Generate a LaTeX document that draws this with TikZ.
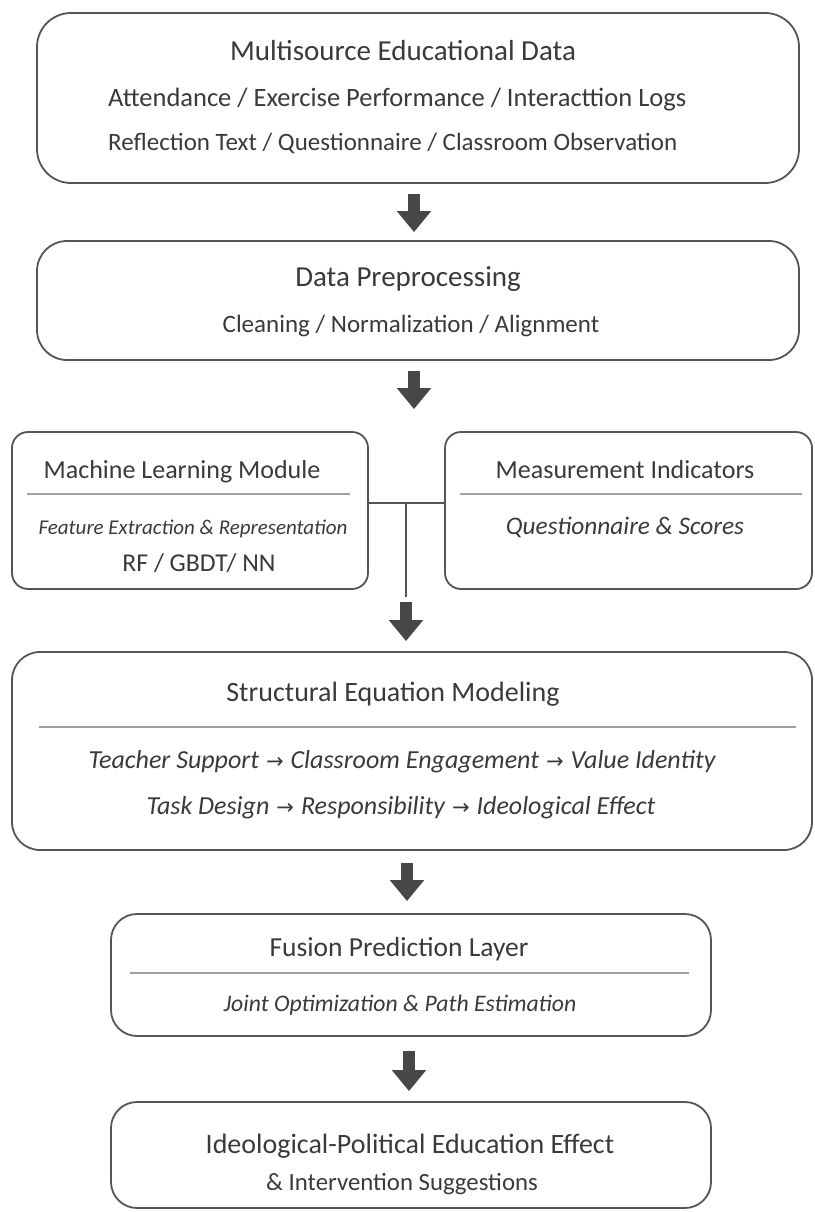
\documentclass[tikz,border=0pt]{standalone}
\usepackage{fontspec}
\setmainfont{Carlito}
\newfontfamily\symfont{DejaVu Sans}
\usetikzlibrary{arrows.meta,calc}
\definecolor{ink}{HTML}{3A3A3A}
\definecolor{edge}{HTML}{555555}
\definecolor{arr}{HTML}{474747}
\definecolor{rulec}{HTML}{A0A0A0}
\newcommand\ar{\hspace{7pt}{\upshape\symfont\fontsize{21}{24}\selectfont →}\hspace{7pt}}
\tikzset{
  box/.style={draw=edge, line width=1.8pt, fill=white, inner sep=0pt},
  txt/.style={text=ink, inner sep=0pt, text height=0.7em, text depth=0.2em, anchor=center, yshift=-6pt},
  ttl/.style={txt, font=\fontsize{26}{30}\selectfont},
  body/.style={txt, font=\fontsize{25}{30}\selectfont},
  itl/.style={txt, font=\fontsize{23}{28}\selectfont\itshape},
  divider/.style={draw=rulec, line width=1.5pt},
  fat/.style={draw=arr, line width=12.5pt, -{Triangle[width=33pt,length=21pt]}},
  conn/.style={draw=edge, line width=2pt}
}
\begin{document}
\begin{tikzpicture}[x=1pt,y=-1pt]
\useasboundingbox (0,0) rectangle (814,1212);
\fill[white] (0,0) rectangle (814,1212);
% boxes
\node[box, minimum width=762pt, minimum height=170pt, rounded corners=34pt] (b1) at (418,98) {};
\node[box, minimum width=762pt, minimum height=119pt, rounded corners=30pt] (b2) at (418,300.5) {};
\node[box, minimum width=356pt, minimum height=157pt, rounded corners=16pt] (ml) at (190,510.5) {};
\node[box, minimum width=367pt, minimum height=157pt, rounded corners=16pt] (mi) at (628.5,510.5) {};
\node[box, minimum width=800pt, minimum height=198pt, rounded corners=28pt] (sem) at (412,751) {};
\node[box, minimum width=600pt, minimum height=122pt, rounded corners=26pt] (fus) at (411,975) {};
\node[box, minimum width=600pt, minimum height=106pt, rounded corners=26pt] (fin) at (411,1155) {};
% texts
\node[ttl, font=\fontsize{29}{34}\selectfont] (t1) at (403,52) {Multisource Educational Data};
\node[body, font=\fontsize{26.5}{30}\selectfont, anchor=west] (t1a) at (108,98) {Attendance / Exercise Performance / Interacttion Logs};
\node[body, anchor=west] (t1b) at (108,142) {Reflection Text / Questionnaire / Classroom Observation};
\node[ttl, font=\fontsize{29}{34}\selectfont] (t2) at (408,278) {Data Preprocessing};
\node[body] (t2a) at (411,324) {Cleaning / Normalization / Alignment};
\node[ttl] (t3) at (182,470) {Machine Learning Module};
\node[txt, font=\fontsize{21}{25}\selectfont\itshape] (t3a) at (193,526) {Feature Extraction \& Representation};
\node[body, font=\fontsize{25.7}{30}\selectfont] (t3b) at (199,563) {RF / GBDT/ NN};
\node[ttl] (t4) at (625,470) {Measurement Indicators};
\node[itl, font=\fontsize{25.3}{30}\selectfont\itshape] (t4a) at (625,526) {Questionnaire \& Scores};
\node[ttl, font=\fontsize{28}{33}\selectfont] (t5) at (393,693) {Structural Equation Modeling};
\node[itl, font=\fontsize{26}{30}\selectfont\itshape] (t5a) at (402,760) {Teacher Support\ar Classroom Engagement\ar Value Identity};
\node[itl, font=\fontsize{26}{30}\selectfont\itshape] (t5b) at (401,806) {Task Design\ar Responsibility\ar Ideological Effect};
\node[ttl, font=\fontsize{27.5}{32}\selectfont] (t6) at (399,948) {Fusion Prediction Layer};
\node[itl, font=\fontsize{23.7}{28}\selectfont\itshape] (t6a) at (400,1003) {Joint Optimization \& Path Estimation};
\node[ttl, font=\fontsize{28}{33}\selectfont] (t7) at (410,1145) {Ideological-Political Education Effect};
\node[body, font=\fontsize{24.8}{29}\selectfont] (t7a) at (402,1182) {\& Intervention Suggestions};
% dividers
\draw[divider] (27,494) -- (350,494);
\draw[divider] (460,494) -- (802,494);
\draw[divider] (39,727) -- (796,727);
\draw[divider] (130,973) -- (689,973);
% junction connector
\coordinate (j) at (406,503);
\coordinate (j2) at (406,597);
\draw[conn] (ml.east |- j) -- (mi.west |- j);
\draw[conn] (j) -- (j2);
% fat arrows
\draw[fat] ($(b1.south)+(-4,10)$) -- ($(b2.north)+(-4,-8)$);
\draw[fat] ($(b2.south)+(-4,10)$) -- ($(ml.north -| b2.south)+(-4,-22)$);
\draw[fat] ($(j2)+(0,5)$) -- ($(sem.north -| j2)+(0,-10)$);
\draw[fat] ($(sem.south)+(-5,12)$) -- ($(fus.north)+(-4,-12)$);
\draw[fat] ($(fus.south)+(-2,14)$) -- ($(fin.north)+(-2,-10)$);
\end{tikzpicture}
\end{document}
